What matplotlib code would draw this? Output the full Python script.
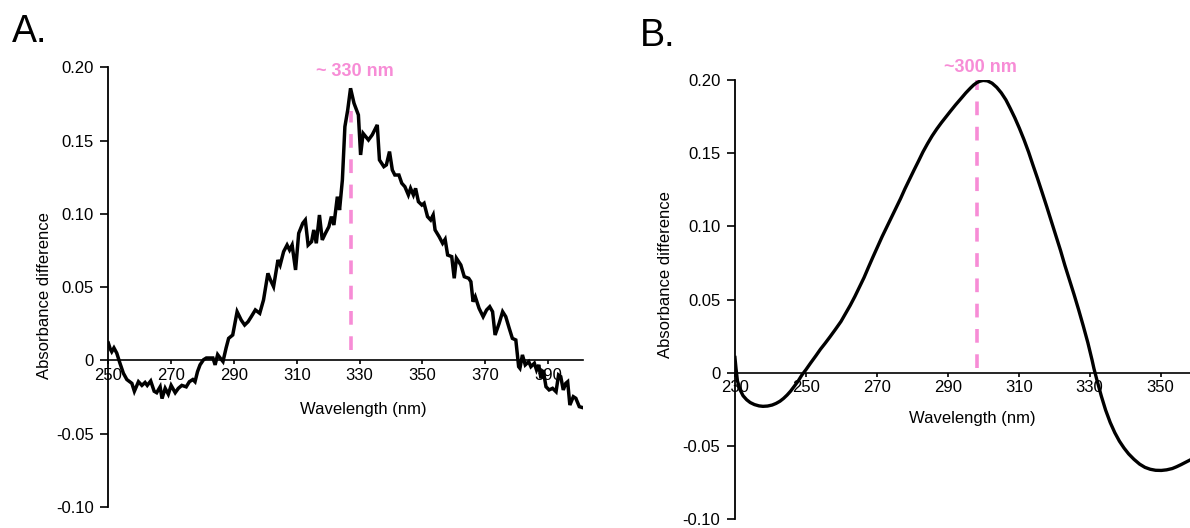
import matplotlib
matplotlib.use("Agg")
import matplotlib.pyplot as plt
from matplotlib.ticker import FixedLocator

plt.rcParams['font.family'] = ['Liberation Sans', 'DejaVu Sans']

# ---------------- data: panel A (noisy difference spectrum) ----------------
wl_a = [250.0, 250.6, 251.1, 251.8, 252.7, 253.7, 254.8, 255.9, 257.5, 258.3,
        259.6, 260.7, 261.7, 262.4, 263.5, 264.6, 265.4, 266.5, 267.1, 268.1,
        269.1, 270.0, 271.3, 272.3, 273.4, 274.8, 275.8, 276.9, 277.6, 278.4,
        279.2, 280.3, 281.2, 282.2, 283.3, 284.0, 284.8, 285.6, 286.5, 287.5,
        288.3, 289.6, 291.0, 292.3, 293.4, 294.5, 295.5, 296.8, 298.2, 299.4,
        300.8, 301.6, 302.6, 304.0, 304.7, 305.8, 306.9, 307.7, 308.5, 309.6,
        310.6, 311.9, 312.7, 313.6, 314.7, 315.4, 316.2, 317.2, 318.1, 319.1,
        320.2, 321.0, 321.8, 322.9, 323.6, 324.5, 325.3, 326.2, 327.1, 328.2,
        329.6, 330.3, 331.1, 332.8, 334.0, 335.6, 336.3, 337.7, 338.5, 339.5,
        340.4, 341.2, 342.5, 343.4, 344.4, 345.5, 346.2, 347.1, 347.8, 348.7,
        349.8, 350.5, 351.6, 352.6, 353.4, 354.0, 355.3, 356.4, 357.2, 358.0,
        359.3, 360.1, 360.8, 362.2, 363.3, 364.7, 365.4, 366.1, 366.8, 368.0,
        369.3, 370.4, 371.4, 372.3, 373.1, 374.4, 375.5, 376.5, 377.6, 378.6,
        379.7, 380.6, 381.0, 381.8, 382.7, 383.8, 384.5, 385.6, 386.3, 387.0,
        387.7, 388.4, 389.3, 390.3, 391.4, 392.5, 393.3, 394.0, 394.8, 395.6,
        396.2, 396.9, 398.0, 398.8, 399.9, 400.7]
abs_a = [0.012, 0.008, 0.006, 0.0086, 0.005, -0.0018, -0.0087, -0.013, -0.0156, -0.021,
         -0.0145, -0.017, -0.015, -0.017, -0.014, -0.021, -0.022, -0.018, -0.026, -0.019,
         -0.023, -0.017, -0.022, -0.019, -0.017, -0.018, -0.0145, -0.013, -0.0145, -0.0076,
         -0.003, 0.0005, 0.0017, 0.0017, 0.0017, -0.003, 0.004, 0.0017, -0.0007, 0.0086,
         0.0151, 0.0174, 0.0333, 0.0276, 0.0242, 0.0265, 0.0299, 0.0345, 0.0322, 0.0413,
         0.0595, 0.055, 0.0504, 0.0686, 0.0652, 0.0743, 0.0788, 0.0754, 0.0788, 0.0618,
         0.0868, 0.0937, 0.0959, 0.0788, 0.0811, 0.0891, 0.080, 0.0993, 0.0823, 0.0868,
         0.0913, 0.0982, 0.0925, 0.1118, 0.1027, 0.1232, 0.1596, 0.171, 0.1858, 0.1756,
         0.1676, 0.1403, 0.155, 0.1505, 0.154, 0.1608, 0.1369, 0.1323, 0.1335, 0.1426,
         0.130, 0.1266, 0.1266, 0.121, 0.1186, 0.113, 0.1175, 0.113, 0.1175, 0.1084,
         0.1061, 0.1073, 0.0982, 0.0959, 0.0993, 0.0891, 0.0845, 0.080, 0.0827, 0.072,
         0.0709, 0.0561, 0.0698, 0.0652, 0.0572, 0.0561, 0.0538, 0.0401, 0.0435, 0.0356,
         0.0299, 0.0345, 0.0367, 0.0333, 0.0174, 0.0254, 0.0333, 0.0299, 0.022, 0.0151,
         0.014, -0.0042, -0.0053, 0.0038, -0.003, -0.0008, -0.0042, -0.0019, -0.0065, -0.003,
         -0.0122, -0.0065, -0.0179, -0.0201, -0.019, -0.0213, -0.0099, -0.011, -0.0201, -0.0156,
         -0.0145, -0.0304, -0.0247, -0.0258, -0.0315, -0.032]

# ---------------- data: panel B (smooth difference spectrum) ----------------
wl_b = [230.0, 230.3, 230.7, 231.4, 232.3, 233.3, 234.3, 235.5, 236.8, 237.9,
        239.2, 240.5, 241.6, 242.7, 243.7, 244.7, 245.7, 246.6, 247.8, 248.9,
        250.0, 251.3, 252.8, 254.1, 255.4, 256.8, 258.3, 259.9, 261.2, 262.5,
        263.8, 265.1, 266.4, 267.6, 268.9, 270.2, 271.5, 272.8, 274.1, 275.4,
        276.7, 277.9, 279.2, 280.5, 281.8, 283.0, 284.3, 285.6, 286.9, 288.2,
        289.5, 290.7, 292.2, 293.8, 295.1, 296.4, 297.3, 298.2, 299.1, 300.0,
        301.2, 302.5, 303.8, 305.1, 306.4, 307.6, 308.9, 310.2, 311.5, 312.8,
        314.0, 315.3, 316.6, 317.9, 319.2, 320.5, 321.8, 323.0, 324.3, 325.6,
        326.9, 328.2, 329.5, 330.7, 331.2, 332.0, 333.3, 334.5, 335.8, 337.1,
        338.4, 339.7, 341.0, 342.5, 344.1, 345.6, 347.1, 348.6, 350.2, 351.7,
        353.3, 354.5, 355.8, 357.0, 358.3]
abs_b = [0.0104, 0.0030, -0.0055, -0.0115, -0.0158, -0.0185, -0.0204, -0.0218, -0.0227, -0.0230,
         -0.0228, -0.0221, -0.0210, -0.0195, -0.0176, -0.0153, -0.0126, -0.0097, -0.0058, -0.0015,
         0.0020, 0.0065, 0.0115, 0.0160, 0.0200, 0.0245, 0.0295, 0.0350, 0.0405, 0.0460,
         0.0520, 0.0585, 0.0650, 0.0718, 0.0790, 0.0860, 0.0930, 0.0995, 0.1060, 0.1125,
         0.1190, 0.1255, 0.1320, 0.1385, 0.1448, 0.1508, 0.1565, 0.1618, 0.1665, 0.1708,
         0.1748, 0.1785, 0.1830, 0.1875, 0.1912, 0.1945, 0.1966, 0.1982, 0.1992, 0.1997,
         0.1994, 0.1978, 0.1950, 0.1912, 0.1864, 0.1807, 0.1742, 0.1670, 0.1592, 0.1507,
         0.1420, 0.1328, 0.1232, 0.1135, 0.1035, 0.0935, 0.0835, 0.0735, 0.0635, 0.0535,
         0.0430, 0.0320, 0.0205, 0.0085, 0.0030, -0.0045, -0.0160, -0.0255, -0.0340, -0.0410,
         -0.0468, -0.0515, -0.0555, -0.0592, -0.0625, -0.0647, -0.0660, -0.0667, -0.0668, -0.0664,
         -0.0655, -0.0643, -0.0628, -0.0613, -0.0597]

y_ticks = [-0.10, -0.05, 0.0, 0.05, 0.10, 0.15, 0.20]
y_tick_labels = ["-0.10", "-0.05", "0", "0.05", "0.10", "0.15", "0.20"]
x_ticks_a = [250, 270, 290, 310, 330, 350, 370, 390]
x_ticks_b = [230, 250, 270, 290, 310, 330, 350]

peak_a = 327.1
peak_b = 298.3
label_a = "~ 330 nm"
label_b = "~300 nm"

PINK = '#F78CD6'

fig = plt.figure(figsize=(11.9, 5.28), dpi=100)

axA = fig.add_axes([0.0910, 0.0398, 0.3987, 0.8324])
axB = fig.add_axes([0.6176, 0.0170, 0.3824, 0.8315])


def style(ax, xticks, xlim):
    ax.set_xlim(*xlim)
    ax.set_ylim(-0.10, 0.20)
    for s in ['top', 'right']:
        ax.spines[s].set_visible(False)
    ax.spines['bottom'].set_position(('data', 0))
    ax.spines['bottom'].set_linewidth(1.2)
    ax.spines['left'].set_linewidth(1.3)
    ax.yaxis.set_major_locator(FixedLocator(y_ticks))
    ax.set_yticklabels(y_tick_labels)
    ax.xaxis.set_major_locator(FixedLocator(xticks))
    ax.set_xticklabels([str(t) for t in xticks])
    ax.tick_params(axis='y', direction='out', length=5.5, width=1.2, pad=5, labelsize=12)
    ax.tick_params(axis='x', direction='out', length=3, width=1.2, pad=2.5, labelsize=12)
    ax.set_xlabel("Wavelength (nm)", fontsize=12)
    ax.set_ylabel("Absorbance difference", fontsize=12)


style(axA, x_ticks_a, (250, 401))
style(axB, x_ticks_b, (230, 358.3))

axA.plot(wl_a, abs_a, color='black', lw=2.5, zorder=4, solid_joinstyle='miter')
axB.plot(wl_b, abs_b, color='black', lw=2.4, zorder=4, solid_joinstyle='round')

axA.plot([peak_a, peak_a], [0.007, 0.170], color=PINK, lw=2.6, dashes=(3.8, 3.2), zorder=3)
axB.plot([peak_b, peak_b], [0.003, 0.200], color=PINK, lw=2.6, dashes=(3.8, 3.2), zorder=3)

axA.text(328.6, 0.197, label_a, color=PINK, fontsize=13, fontweight='bold',
         ha='center', va='center', clip_on=False)
axB.text(299.1, 0.2086, label_b, color=PINK, fontsize=13, fontweight='bold',
         ha='center', va='center', clip_on=False)

axA.xaxis.set_label_coords(0.538, 0.239)
axB.xaxis.set_label_coords(0.521, 0.246)
axA.yaxis.set_label_coords(-0.119, 0.482)
axB.yaxis.set_label_coords(-0.136, 0.556)

fig.text(0.0098, 1 - 41.7 / 528, "A.", fontsize=27, va='baseline', ha='left')
fig.text(640 / 1190, 1 - 45.5 / 528, "B.", fontsize=27, va='baseline', ha='left')

fig.savefig("out.png", dpi=100)
